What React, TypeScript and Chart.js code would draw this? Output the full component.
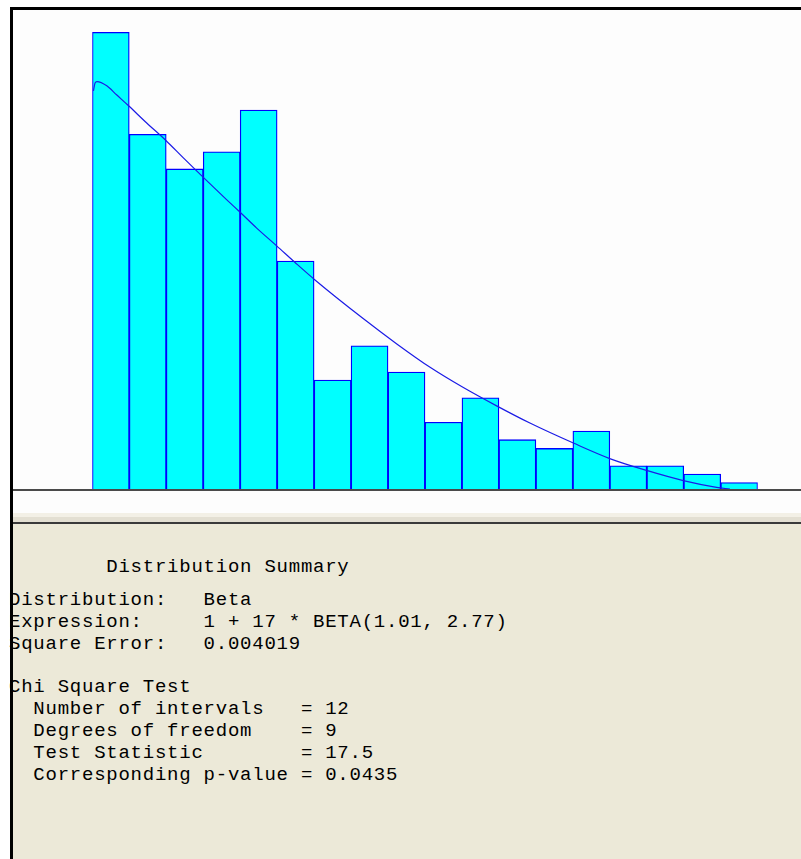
import React, { useEffect, useRef } from "react";
import { Chart, registerables } from "chart.js";

Chart.register(...registerables);

// Histogram bins (start of each interval) for 1 + 17 * BETA(1.01, 2.77)
const binStarts = [
  "1.00", "1.94", "2.89", "3.83", "4.78", "5.72", "6.67", "7.61", "8.56",
  "9.50", "10.44", "11.39", "12.33", "13.28", "14.22", "15.17", "16.11", "17.06",
];

// Relative frequency of each bin
const binFreq = [
  0.1621, 0.1259, 0.1136, 0.1197, 0.1345, 0.0809, 0.0387, 0.0508, 0.0415,
  0.0237, 0.0324, 0.0175, 0.0144, 0.0206, 0.0082, 0.0082, 0.0053, 0.0023,
];

// Fitted Beta density curve
const fitX = [
  1.03, 1.07, 1.12, 1.37, 1.62, 1.92, 2.39, 2.88, 3.32, 3.79, 4.43, 4.77, 5.2,
  5.71, 6.18, 6.69, 7.92, 8.78, 9.63, 10.48, 11.33, 12.18, 13.29, 14.22, 15.16,
  16.1, 16.95, 17.29,
];
const fitY = [
  0.1413, 0.1441, 0.1446, 0.1431, 0.1399, 0.1361, 0.1299, 0.1237, 0.1176,
  0.1112, 0.1027, 0.0983, 0.0926, 0.0863, 0.0804, 0.0742, 0.0605, 0.0515,
  0.0432, 0.036, 0.0295, 0.0234, 0.0163, 0.0108, 0.0066, 0.003, 0.0006, 0,
];

const xMin = 1;
const xMax = 18;
const yMax = 0.17;

const summaryLines = [
  "        Distribution Summary",
  "Distribution:   Beta",
  "Expression:     1 + 17 * BETA(1.01, 2.77)",
  "Square Error:   0.004019",
  "Chi Square Test",
  "  Number of intervals   = 12",
  "  Degrees of freedom    = 9",
  "  Test Statistic        = 17.5",
  "  Corresponding p-value = 0.0435",
];
const summaryTops = [556, 589, 611, 633, 676, 698, 720, 742, 764];

function HistogramChart() {
  const ref = useRef<HTMLCanvasElement | null>(null);
  useEffect(() => {
    if (!ref.current) return;
    const chart = new Chart(ref.current, {
      type: "bar",
      data: {
        labels: binStarts,
        datasets: [
          {
            type: "line",
            data: fitX.map((x, i) => ({ x, y: fitY[i] })),
            xAxisID: "xFit",
            yAxisID: "y",
            borderColor: "#1c1ce6",
            borderWidth: 1.2,
            pointRadius: 0,
            fill: false,
            cubicInterpolationMode: "monotone",
            order: 0,
          } as any,
          {
            type: "bar",
            data: binFreq,
            xAxisID: "x",
            yAxisID: "y",
            backgroundColor: "#00ffff",
            borderColor: "#0000ff",
            borderWidth: 1.3,
            barPercentage: 1,
            categoryPercentage: 1,
            grouped: false,
            order: 1,
          } as any,
        ],
      },
      options: {
        animation: false,
        responsive: false,
        maintainAspectRatio: false,
        layout: { padding: { left: 79.3, right: 43.3, top: 0, bottom: 1 } },
        scales: {
          x: { type: "category", display: false, offset: true },
          xFit: { type: "linear", axis: "x", display: false, offset: false, min: xMin, max: xMax },
          y: { type: "linear", display: false, min: 0, max: yMax },
        },
        plugins: {
          legend: { display: false },
          tooltip: { enabled: false },
        },
      },
    } as any);
    return () => chart.destroy();
  }, []);
  return (
    <canvas
      ref={ref}
      width={788}
      height={480}
      style={{ position: "absolute", left: 13, top: 10, width: 788, height: 480, display: "block" }}
    />
  );
}

export default function App() {
  return (
    <div
      style={{
        position: "absolute",
        left: 0,
        top: 0,
        width: 801,
        height: 859,
        background: "#ffffff",
        overflow: "hidden",
      }}
    >
      {/* chart background */}
      <div style={{ position: "absolute", left: 13, top: 10, width: 788, height: 503, background: "#fdfdfd" }} />
      <HistogramChart />
      {/* baseline */}
      <div style={{ position: "absolute", left: 13, top: 489, width: 788, height: 2, background: "#4a4a4a" }} />
      {/* separator band */}
      <div style={{ position: "absolute", left: 13, top: 513, width: 788, height: 4, background: "#f3f0e6" }} />
      <div style={{ position: "absolute", left: 13, top: 517, width: 788, height: 5, background: "#e3dfd2" }} />
      <div style={{ position: "absolute", left: 13, top: 522, width: 788, height: 2, background: "#3a3a3a" }} />
      {/* text panel */}
      <div style={{ position: "absolute", left: 13, top: 524, width: 788, height: 335, background: "#ece9d8" }} />
      {summaryLines.map((line, i) => (
        <div
          key={i}
          style={{
            position: "absolute",
            left: 9,
            top: summaryTops[i],
            margin: 0,
            whiteSpace: "pre",
            fontFamily: '"Liberation Mono", "DejaVu Sans Mono", monospace',
            fontSize: 19,
            letterSpacing: "0.76px",
            lineHeight: "22px",
            color: "#000000",
          }}
        >
          {line}
        </div>
      ))}
      {/* black frame */}
      <div style={{ position: "absolute", left: 10, top: 7, width: 791, height: 3, background: "#000000" }} />
      <div style={{ position: "absolute", left: 10, top: 7, width: 3, height: 852, background: "#000000" }} />
    </div>
  );
}
